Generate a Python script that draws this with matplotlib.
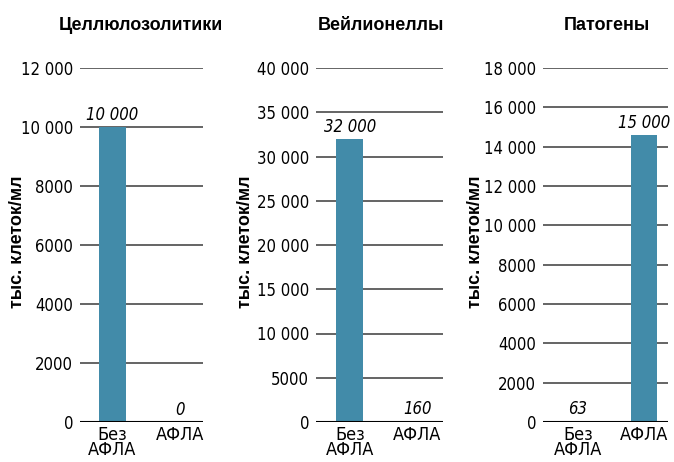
import matplotlib
matplotlib.use("Agg")
import matplotlib.pyplot as plt

plt.rcParams['font.family'] = ['DejaVu Sans']
plt.rcParams['font.stretch'] = 'condensed'

titles = ["Целлюлозолитики", "Вейлионеллы", "Патогены"]
categories = ["Без\nАФЛА", "АФЛА"]
values = [[10000, 0], [32000, 160], [63, 14600]]
value_labels = [["10 000", "0"], ["32 000", "160"], ["63", "15 000"]]
y_ticks = [
    [0, 2000, 4000, 6000, 8000, 10000, 12000],
    [0, 5000, 10000, 15000, 20000, 25000, 30000, 35000, 40000],
    [0, 2000, 4000, 6000, 8000, 10000, 12000, 14000, 16000, 18000],
]
y_tick_labels = [
    ["0", "2000", "4000", "6000", "8000", "10 000", "12 000"],
    ["0", "5000", "10 000", "15 000", "20 000", "25 000", "30 000", "35 000", "40 000"],
    ["0", "2000", "4000", "6000", "8000", "10 000", "12 000", "14 000", "16 000", "18 000"],
]

W, H = 674, 462
fig = plt.figure(figsize=(W / 100, H / 100), dpi=100)

# axes boxes in pixels: left, right
boxes = [(80, 203), (316, 443), (543, 668)]
xlims = [(-0.48, 1.34), (-0.5, 1.38), (-0.53, 1.37)]
ylabel_x = [18, 245, 475]
title_x = [141, 381, 607]
top_px, bottom_px = 68, 422
bar_color = "#428ba9"
bold = ['Liberation Sans', 'DejaVu Sans']

for i in range(3):
    l, r = boxes[i]
    ax = fig.add_axes([l / W, 1 - bottom_px / H, (r - l) / W, (bottom_px - top_px) / H])
    x = range(len(categories))
    ax.bar(x, values[i], width=0.4, color=bar_color, zorder=2)
    ax.set_xlim(*xlims[i])
    ax.set_ylim(0, y_ticks[i][-1])
    ax.set_yticks(y_ticks[i])
    ax.set_yticklabels(y_tick_labels[i], fontsize=12)
    ax.set_xticks(list(x))
    ax.set_xticklabels(categories, fontsize=13, linespacing=0.8)
    ax.tick_params(axis='both', length=0, pad=5)
    ax.tick_params(axis='x', pad=3)
    for s in ax.spines.values():
        s.set_visible(False)
    ax.yaxis.grid(True, color="#3a3a3a", linewidth=1.1, zorder=0)
    ax.axhline(0, color="black", linewidth=1.5, zorder=3)
    for j, v in enumerate(values[i]):
        ax.annotate(value_labels[i][j], (j, v), xytext=(0, 2), textcoords="offset points",
                    ha="center", va="bottom", fontsize=12, style="italic")
    fig.text(ylabel_x[i] / W, 1 - 242 / H, "тыс. клеток/мл", rotation=90,
             ha="center", va="center", fontsize=13, fontweight="bold",
             family=bold, fontstretch="normal")
    fig.text(title_x[i] / W, 1 - 25 / H, titles[i], ha="center", va="center",
             fontsize=13, fontweight="bold", family=bold, fontstretch="normal")

fig.savefig("out.png", dpi=100)
